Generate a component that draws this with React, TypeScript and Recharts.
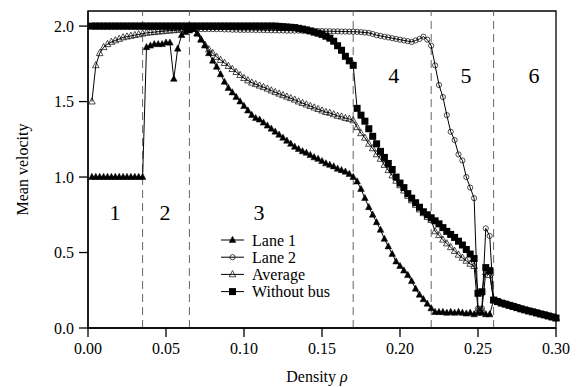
import React from 'react';
import {
  LineChart,
  Line,
  XAxis,
  YAxis,
  ReferenceLine,
  ReferenceArea,
  ReferenceDot,
} from 'recharts';

const FONT = '"Liberation Serif", "Times New Roman", serif';

// density rho, one point every 0.0025
const density = [
  0.0025, 0.005, 0.0075, 0.01, 0.0125, 0.015, 0.0175, 0.02, 0.0225, 0.025,
  0.0275, 0.03, 0.0325, 0.035, 0.0375, 0.04, 0.0425, 0.045, 0.0475, 0.05,
  0.0525, 0.055, 0.0575, 0.06, 0.0625, 0.065, 0.0675, 0.07, 0.0725, 0.075,
  0.0775, 0.08, 0.0825, 0.085, 0.0875, 0.09, 0.0925, 0.095, 0.0975, 0.1,
  0.1025, 0.105, 0.1075, 0.11, 0.1125, 0.115, 0.1175, 0.12, 0.1225, 0.125,
  0.1275, 0.13, 0.1325, 0.135, 0.1375, 0.14, 0.1425, 0.145, 0.1475, 0.15,
  0.1525, 0.155, 0.1575, 0.16, 0.1625, 0.165, 0.1675, 0.17, 0.1725, 0.175,
  0.1775, 0.18, 0.1825, 0.185, 0.1875, 0.19, 0.1925, 0.195, 0.1975, 0.2,
  0.2025, 0.205, 0.2075, 0.21, 0.2125, 0.215, 0.2175, 0.22, 0.2225, 0.225,
  0.2275, 0.23, 0.2325, 0.235, 0.2375, 0.24, 0.2425, 0.245, 0.2475, 0.25,
  0.2525, 0.255, 0.2575, 0.26, 0.2625, 0.265, 0.2675, 0.27, 0.2725, 0.275,
  0.2775, 0.28, 0.2825, 0.285, 0.2875, 0.29, 0.2925, 0.295, 0.2975, 0.3,
];

const lane1 = [
  1, 1, 1, 1, 1, 1, 1, 1, 1, 1,
  1, 1, 1, 1, 1.86, 1.87, 1.88, 1.88, 1.88, 1.89,
  1.89, 1.65, 1.85, 1.94, 1.96, 1.97, 1.98, 1.95, 1.91, 1.87,
  1.82, 1.77, 1.73, 1.68, 1.63, 1.59, 1.56, 1.53, 1.5, 1.47,
  1.44, 1.41, 1.39, 1.38, 1.36, 1.34, 1.32, 1.3, 1.28, 1.26,
  1.24, 1.22, 1.2, 1.185, 1.17, 1.16, 1.145, 1.13, 1.12, 1.105,
  1.09, 1.08, 1.07, 1.055, 1.045, 1.035, 1.02, 1.0, 0.97, 0.92,
  0.86, 0.8, 0.75, 0.7, 0.65, 0.59, 0.54, 0.49, 0.44, 0.41,
  0.38, 0.35, 0.31, 0.26, 0.22, 0.19, 0.16, 0.13, 0.105, 0.105,
  0.105, 0.1, 0.105, 0.1, 0.105, 0.1, 0.095, 0.1, 0.09, 0.1,
  0.1, 0.09, 0.09, 0.185, 0.175, 0.165, 0.158, 0.15, 0.143, 0.135,
  0.127, 0.12, 0.113, 0.107, 0.1, 0.093, 0.087, 0.08, 0.073, 0.066,
];

const lane2 = [
  2, 2, 2, 2, 2, 2, 2, 2, 2, 2,
  2, 2, 2, 2, 2, 1.995, 1.995, 1.995, 1.99, 1.99,
  1.99, 1.99, 1.985, 1.985, 1.985, 1.985, 1.98, 1.98, 1.98, 1.98,
  1.98, 1.98, 1.98, 1.98, 1.978, 1.978, 1.976, 1.976, 1.975, 1.975,
  1.975, 1.975, 1.974, 1.974, 1.973, 1.973, 1.972, 1.972, 1.971, 1.971,
  1.97, 1.97, 1.97, 1.97, 1.969, 1.969, 1.968, 1.968, 1.967, 1.967,
  1.966, 1.966, 1.965, 1.965, 1.964, 1.964, 1.963, 1.963, 1.962, 1.96,
  1.957, 1.955, 1.948, 1.94, 1.935, 1.93, 1.925, 1.92, 1.915, 1.91,
  1.905, 1.9, 1.895, 1.905, 1.915, 1.93, 1.91, 1.87, 1.74, 1.61,
  1.53, 1.41, 1.3, 1.245, 1.15, 1.11, 1.0, 0.93, 0.86, 0.13,
  0.13, 0.66, 0.61, 0.185, 0.175, 0.165, 0.158, 0.15, 0.143, 0.135,
  0.127, 0.12, 0.113, 0.107, 0.1, 0.093, 0.087, 0.08, 0.073, 0.066,
];

const average = [
  1.5, 1.74, 1.82, 1.86, 1.88, 1.895, 1.905, 1.915, 1.925, 1.93,
  1.935, 1.94, 1.945, 1.95, 1.955, 1.958, 1.96, 1.963, 1.965, 1.968,
  1.97, 1.972, 1.975, 1.977, 1.98, 1.98, 1.98, 1.95, 1.91, 1.875,
  1.845, 1.82, 1.795, 1.775, 1.755, 1.735, 1.715, 1.695, 1.675, 1.655,
  1.64, 1.625, 1.615, 1.605, 1.595, 1.585, 1.573, 1.562, 1.552, 1.542,
  1.532, 1.522, 1.512, 1.5, 1.49, 1.48, 1.47, 1.46, 1.45, 1.44,
  1.43, 1.425, 1.415, 1.405, 1.4, 1.39, 1.385, 1.375, 1.33, 1.29,
  1.26, 1.22, 1.19, 1.15, 1.12, 1.08, 1.045, 1.01, 0.975, 0.945,
  0.91, 0.875, 0.845, 0.815, 0.785, 0.76, 0.735, 0.715, 0.64, 0.615,
  0.585, 0.56, 0.535, 0.51, 0.485, 0.465, 0.445, 0.425, 0.41, 0.12,
  0.12, 0.37, 0.35, 0.185, 0.175, 0.165, 0.158, 0.15, 0.143, 0.135,
  0.127, 0.12, 0.113, 0.107, 0.1, 0.093, 0.087, 0.08, 0.073, 0.066,
];

const withoutBus = [
  2, 2, 2, 2, 2, 2, 2, 2, 2, 2,
  2, 2, 2, 2, 2, 2, 2, 2, 2, 2,
  2, 2, 2, 2, 2, 2, 2, 2, 2, 2,
  2, 2, 2, 2, 2, 2, 2, 2, 2, 2,
  2, 2, 2, 2, 2, 2, 2, 2, 1.998, 1.996,
  1.994, 1.992, 1.99, 1.985, 1.98, 1.975, 1.968, 1.96, 1.953, 1.945,
  1.933, 1.92, 1.9, 1.87, 1.84, 1.8, 1.77, 1.74, 1.455, 1.41,
  1.37, 1.32, 1.27, 1.22, 1.17, 1.13, 1.09, 1.05, 1.0, 0.96,
  0.93, 0.89, 0.86, 0.83, 0.8, 0.77, 0.75, 0.73, 0.71, 0.69,
  0.665, 0.64, 0.62, 0.6, 0.575, 0.55, 0.52, 0.49, 0.46, 0.23,
  0.24, 0.4, 0.38, 0.185, 0.175, 0.165, 0.158, 0.15, 0.143, 0.135,
  0.127, 0.12, 0.113, 0.107, 0.1, 0.093, 0.087, 0.08, 0.073, 0.066,
];

const xTicks = [0, 0.05, 0.1, 0.15, 0.2, 0.25, 0.3];
const yTicks = [0, 0.5, 1, 1.5, 2];
const phaseBounds = [0.035, 0.065, 0.17, 0.22, 0.26];
const phaseLabels = [
  { rho: 0.0173, v: 0.77, text: '1' },
  { rho: 0.0494, v: 0.77, text: '2' },
  { rho: 0.1096, v: 0.77, text: '3' },
  { rho: 0.196, v: 1.675, text: '4' },
  { rho: 0.2423, v: 1.675, text: '5' },
  { rho: 0.2859, v: 1.675, text: '6' },
];

const data = density.map((rho, i) => ({
  rho,
  lane1: lane1[i],
  lane2: lane2[i],
  average: average[i],
  withoutBus: withoutBus[i],
}));

type MarkerKind = 'triFilled' | 'triOpen' | 'circle' | 'square';

const marker = (kind: MarkerKind, cx: number, cy: number, key?: string | number) => {
  switch (kind) {
    case 'triFilled':
    case 'triOpen':
      return (
        <path
          key={key}
          d={`M${cx},${cy - 3.8}L${cx + 3.3},${cy + 2.4}L${cx - 3.3},${cy + 2.4}Z`}
          fill={kind === 'triFilled' ? '#000' : 'none'}
          stroke="#000"
          strokeWidth={kind === 'triFilled' ? 0.5 : 0.7}
        />
      );
    case 'circle':
      return <circle key={key} cx={cx} cy={cy} r={2.6} fill="none" stroke="#000" strokeWidth={0.7} />;
    default:
      return <rect key={key} x={cx - 3.5} y={cy - 3.5} width={7} height={7} fill="#000" />;
  }
};

const dotFor = (kind: MarkerKind) => (props: any) => {
  const { cx, cy, index } = props;
  if (cx == null || cy == null) return <g key={`${kind}-${index}`} />;
  return marker(kind, cx, cy, `${kind}-${index}`);
};

const legendItems: { label: string; kind: MarkerKind }[] = [
  { label: 'Lane 1', kind: 'triFilled' },
  { label: 'Lane 2', kind: 'circle' },
  { label: 'Average', kind: 'triOpen' },
  { label: 'Without bus', kind: 'square' },
];

const tickStyle = { fontFamily: FONT, fontSize: 16, fill: '#000' };

export default function App() {
  return (
    <div style={{ position: 'absolute', left: 0, top: 0, width: 578, height: 387, background: '#fff' }}>
      <LineChart width={578} height={387} data={data} margin={{ top: 11, right: 22, bottom: 0, left: 0 }}>
        <ReferenceArea x1={0} x2={0.3} y1={0} y2={2.1} fill="none" stroke="#000" strokeWidth={1.3} />
        {phaseBounds.map((b) => (
          <ReferenceLine key={b} x={b} stroke="#666" strokeDasharray="8 5" strokeWidth={1} />
        ))}
        <XAxis
          dataKey="rho"
          type="number"
          domain={[0, 0.3]}
          ticks={xTicks}
          tickFormatter={(v: number) => v.toFixed(2)}
          tick={tickStyle}
          tickSize={9}
          tickMargin={6}
          height={59}
          stroke="#000"
          strokeWidth={1.3}
          label={{
            content: ({ viewBox }: any) => (
              <text
                x={viewBox.x + viewBox.width / 2 - 5}
                y={viewBox.y + viewBox.height - 5}
                textAnchor="middle"
                fontFamily={FONT}
                fontSize={16}
                fill="#000"
              >
                Density <tspan fontStyle="italic">ρ</tspan>
              </text>
            ),
          }}
        />
        <YAxis
          type="number"
          domain={[0, 2.1]}
          ticks={yTicks}
          tickFormatter={(v: number) => v.toFixed(1)}
          tick={tickStyle}
          tickSize={9}
          tickMargin={5}
          width={88}
          stroke="#000"
          strokeWidth={1.3}
          label={{
            content: ({ viewBox }: any) => {
              const cx = viewBox.x + 22;
              const cy = viewBox.y + viewBox.height / 2;
              return (
                <text
                  x={cx}
                  y={cy}
                  transform={`rotate(-90 ${cx} ${cy})`}
                  textAnchor="middle"
                  dominantBaseline="central"
                  fontFamily={FONT}
                  fontSize={16}
                  fill="#000"
                >
                  Mean velocity
                </text>
              );
            },
          }}
        />
        {phaseLabels.map((p) => (
          <ReferenceDot
            key={p.text}
            x={p.rho}
            y={p.v}
            r={0}
            fill="none"
            stroke="none"
            label={{ value: p.text, position: 'center', fontFamily: FONT, fontSize: 22, fill: '#000' }}
          />
        ))}
        <Line type="linear" dataKey="lane1" stroke="#000" strokeWidth={1} dot={dotFor('triFilled')} activeDot={false} isAnimationActive={false} />
        <Line type="linear" dataKey="lane2" stroke="#000" strokeWidth={1} dot={dotFor('circle')} activeDot={false} isAnimationActive={false} />
        <Line type="linear" dataKey="average" stroke="#000" strokeWidth={1} dot={dotFor('triOpen')} activeDot={false} isAnimationActive={false} />
        <Line type="linear" dataKey="withoutBus" stroke="#000" strokeWidth={1} dot={dotFor('square')} activeDot={false} isAnimationActive={false} />
      </LineChart>
      <svg width={140} height={80} style={{ position: 'absolute', left: 215, top: 230 }}>
        {legendItems.map((item, i) => {
          const y = 10 + i * 17.2;
          return (
            <g key={item.label}>
              <line x1={6} x2={29} y1={y} y2={y} stroke="#000" strokeWidth={1} />
              {marker(item.kind, 17.5, y)}
              <text x={37} y={y} dominantBaseline="central" fontFamily={FONT} fontSize={16} fill="#000">
                {item.label}
              </text>
            </g>
          );
        })}
      </svg>
    </div>
  );
}
